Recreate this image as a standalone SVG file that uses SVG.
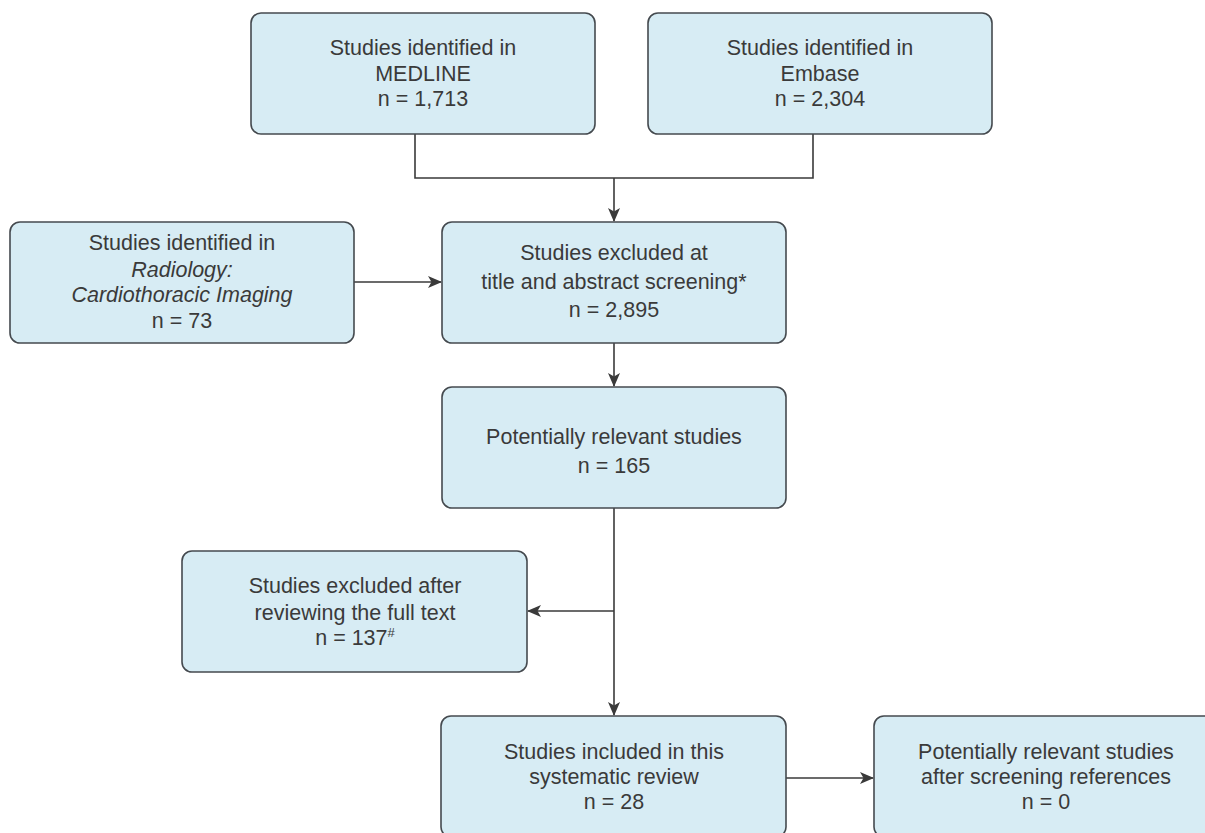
<svg xmlns="http://www.w3.org/2000/svg" width="1205" height="833" viewBox="0 0 1205 833">
<style>
.box{fill:#d7ecf4;stroke:#454a4f;stroke-width:1.6}
.t{font-family:"Liberation Sans",Arial,sans-serif;font-size:21.5px;fill:#3a3a3a;text-anchor:middle}
.i{font-style:italic}
.c{fill:none;stroke:#3a3a3a;stroke-width:1.6}
</style>
<defs>
<marker id="ah" viewBox="0 0 14 12" refX="13" refY="6" markerWidth="14" markerHeight="12" markerUnits="userSpaceOnUse" orient="auto">
<path d="M0,0 L14,6 L0,12 L3.5,6 Z" fill="#3a3a3a"/>
</marker>
</defs>
<rect width="1205" height="833" fill="#ffffff"/>
<g id="connectors">
<polyline class="c" points="415,134 415,178 813,178 813,134"/>
<line class="c" x1="614" y1="178" x2="614" y2="221" marker-end="url(#ah)"/>
<line class="c" x1="354" y1="282" x2="441" y2="282" marker-end="url(#ah)"/>
<line class="c" x1="614" y1="343" x2="614" y2="386" marker-end="url(#ah)"/>
<line class="c" x1="614" y1="508" x2="614" y2="715" marker-end="url(#ah)"/>
<line class="c" x1="614" y1="611" x2="528" y2="611" marker-end="url(#ah)"/>
<line class="c" x1="786" y1="778" x2="873" y2="778" marker-end="url(#ah)"/>
</g>
<g id="medline">
<rect class="box" x="251" y="13" width="344" height="121" rx="10"/>
<text class="t" x="423" y="55">Studies identified in</text>
<text class="t" x="423" y="81">MEDLINE</text>
<text class="t" x="423" y="106">n = 1,713</text>
</g>
<g id="embase">
<rect class="box" x="648" y="13" width="344" height="121" rx="10"/>
<text class="t" x="820" y="55">Studies identified in</text>
<text class="t" x="820" y="81">Embase</text>
<text class="t" x="820" y="106">n = 2,304</text>
</g>
<g id="radiology">
<rect class="box" x="10" y="222" width="344" height="121" rx="10"/>
<text class="t" x="182" y="250">Studies identified in</text>
<text class="t i" x="182" y="277">Radiology:</text>
<text class="t i" x="182" y="302">Cardiothoracic Imaging</text>
<text class="t" x="182" y="328">n = 73</text>
</g>
<g id="excluded-title">
<rect class="box" x="442" y="222" width="344" height="121" rx="10"/>
<text class="t" x="614" y="260">Studies excluded at</text>
<text class="t" x="614" y="289">title and abstract screening*</text>
<text class="t" x="614" y="317">n = 2,895</text>
</g>
<g id="potentially-relevant">
<rect class="box" x="442" y="387" width="344" height="121" rx="10"/>
<text class="t" x="614" y="444">Potentially relevant studies</text>
<text class="t" x="614" y="473">n = 165</text>
</g>
<g id="excluded-full">
<rect class="box" x="182" y="551" width="345" height="121" rx="10"/>
<text class="t" x="355" y="593">Studies excluded after</text>
<text class="t" x="355" y="620">reviewing the full text</text>
<text class="t" x="355" y="645">n = 137<tspan font-size="13" dy="-8">#</tspan></text>
</g>
<g id="included">
<rect class="box" x="441" y="716" width="345" height="121" rx="10"/>
<text class="t" x="614" y="759">Studies included in this</text>
<text class="t" x="614" y="784">systematic review</text>
<text class="t" x="614" y="809">n = 28</text>
</g>
<g id="after-screening">
<rect class="box" x="874" y="716" width="345" height="121" rx="10"/>
<text class="t" x="1046" y="759">Potentially relevant studies</text>
<text class="t" x="1046" y="784">after screening references</text>
<text class="t" x="1046" y="809">n = 0</text>
</g>
</svg>
